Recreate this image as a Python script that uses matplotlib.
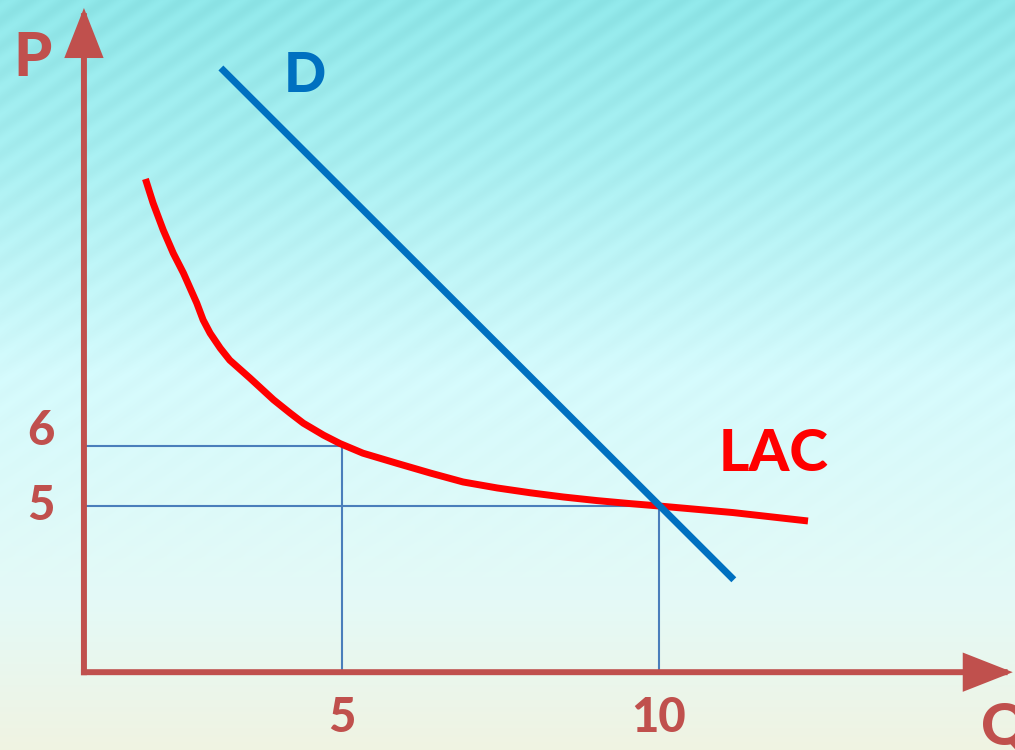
import numpy as np
import matplotlib
matplotlib.use("Agg")
import matplotlib.pyplot as plt
from matplotlib.patches import FancyArrowPatch

# values
lac_q = [1.90, 2.02, 2.18, 2.34, 2.50, 2.63, 2.71, 2.81, 2.92, 3.08,
         3.23, 3.39, 3.55, 3.92, 4.18, 4.39, 4.71, 4.97, 5.33, 5.87,
         6.39, 6.91, 7.45, 7.97, 8.49, 9.02, 9.54, 10.00, 11.17, 12.35]
lac_p = [10.45, 10.05, 9.60, 9.21, 8.88, 8.57, 8.38, 8.10, 7.88, 7.63,
         7.43, 7.28, 7.13, 6.77, 6.55, 6.38, 6.18, 6.04, 5.88, 5.71,
         5.55, 5.40, 5.30, 5.22, 5.15, 5.09, 5.04, 5.00, 4.89, 4.75]
demand_q = [3.09, 11.18]
demand_p = [12.30, 3.77]
guide_q = [5, 10]
guide_p = [6, 5]
x_ticks = ["5", "10"]
y_ticks = ["6", "5"]

AXIS_RED = "#C0504D"
D_BLUE = "#0070C0"
LAC_RED = "#FF0000"
GUIDE_BLUE = "#4A7EBB"
FONT = ["Lato", "DejaVu Sans"]

# schematic scale: axis origin is not at (0, 0)
q0, p0 = 0.93, 2.23
xlim = (-0.394, 15.615)
ylim = (0.933, 13.433)

fig = plt.figure(figsize=(10.15, 7.5), dpi=100)
ax = fig.add_axes([0, 0, 1, 1])
ax.set_xlim(*xlim)
ax.set_ylim(*ylim)
ax.axis("off")

# background: vertical cyan -> cream gradient with faint diagonal stripes
h, w = 750, 1015
yy, xx = np.mgrid[0:h, 0:w]
frac = yy / (h - 1)
stops = np.array([0.0, 0.2, 0.5, 0.8, 1.0])
cols = np.array([
    [0x8E, 0xE6, 0xE8],
    [0xA6, 0xEE, 0xF0],
    [0xD4, 0xFA, 0xFC],
    [0xE4, 0xFA, 0xF7],
    [0xF0, 0xF3, 0xE2],
], dtype=float)
bg = np.stack([np.interp(frac, stops, cols[:, c]) for c in range(3)], axis=-1)
theta = np.deg2rad(35)
phase = (xx * np.sin(theta) + yy * np.cos(theta)) / 22.0
stripe = 4.0 * np.sin(2 * np.pi * phase) * np.clip(1.0 - frac * 1.3, 0, 1)
bg = np.clip(bg + stripe[..., None], 0, 255) / 255.0
ax.imshow(bg, extent=(xlim[0], xlim[1], ylim[0], ylim[1]), origin="upper",
          aspect="auto", zorder=0)

# guide lines
for q, p in zip(guide_q, guide_p):
    ax.plot([q0, q], [p, p], color=GUIDE_BLUE, lw=1.5, zorder=2)
    ax.plot([q, q], [p0, p], color=GUIDE_BLUE, lw=1.5, zorder=2)

# curves
ax.plot(lac_q, lac_p, color=LAC_RED, lw=5, solid_joinstyle="round",
        solid_capstyle="butt", zorder=3)
ax.plot(demand_q, demand_p, color=D_BLUE, lw=5, solid_capstyle="butt", zorder=4)

# axes with arrowheads
for tip in [(q0, 13.3), (15.58, p0)]:
    arrow = FancyArrowPatch((q0, p0), tip, arrowstyle="-|>,head_length=28,head_width=11",
                            mutation_scale=1, shrinkA=0, shrinkB=0, lw=4.3,
                            color=AXIS_RED, capstyle="projecting", joinstyle="miter",
                            zorder=5)
    ax.add_patch(arrow)

# labels
label_kw = dict(fontweight="black", family=FONT, ha="center", va="baseline", zorder=6)
ax.text(0.126, 12.167, "P", color=AXIS_RED, fontsize=44, **label_kw)
ax.text(15.45, 1.033, "Q", color=AXIS_RED, fontsize=42, **label_kw)
ax.text(4.416, 11.9, "D", color=D_BLUE, fontsize=40, **label_kw)
ax.text(11.80, 5.583, "LAC", color=LAC_RED, fontsize=42, **label_kw)

for q, lab in zip(guide_q, x_ticks):
    ax.text(q, 1.233, lab, color=AXIS_RED, fontsize=34, **label_kw)
for p, lab, off in zip(guide_p, y_ticks, [0.017, -0.233]):
    ax.text(0.245, p + off, lab, color=AXIS_RED, fontsize=34, **label_kw)

fig.savefig("out.png", dpi=100)
plt.close(fig)
